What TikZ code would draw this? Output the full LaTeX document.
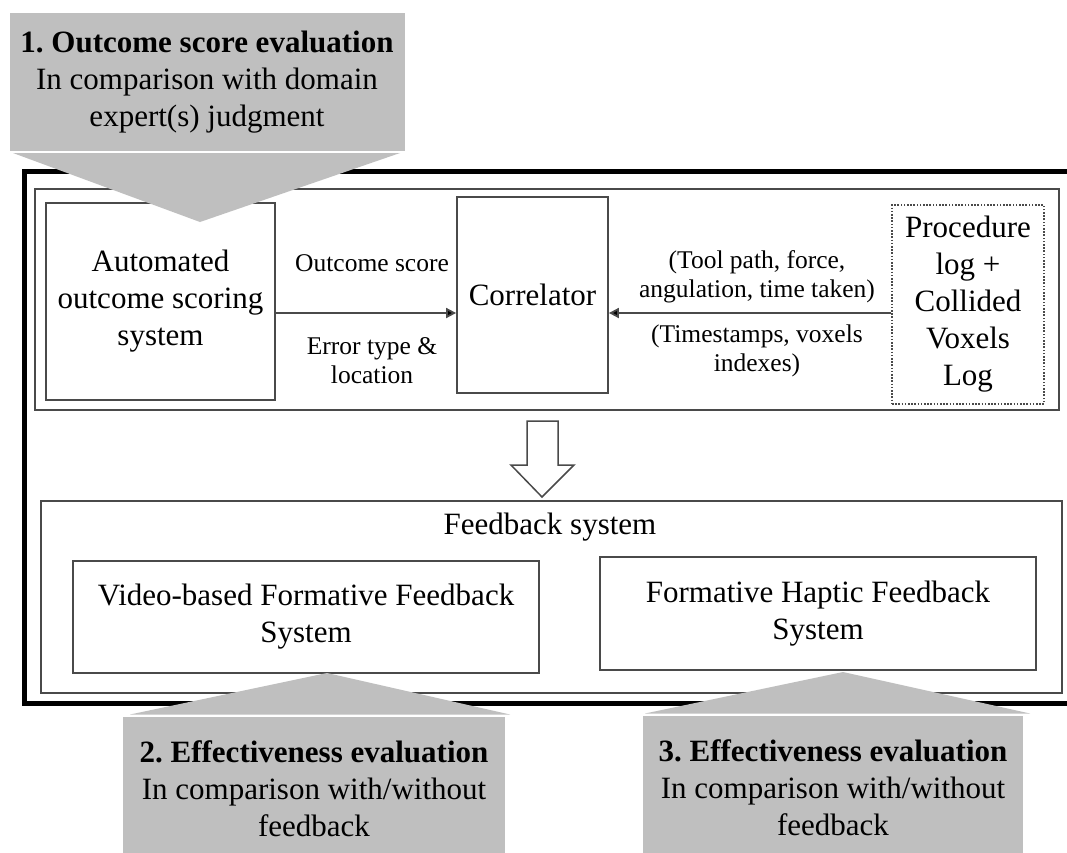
\documentclass[tikz,border=0pt]{standalone}
\usepackage{fontspec}
\setmainfont{Liberation Serif}
\usetikzlibrary{arrows.meta}
\frenchspacing
\definecolor{boxline}{HTML}{4A4A4A}
\definecolor{callgray}{HTML}{BFBFBF}
\tikzset{
  bigfont/.style={font=\fontsize{31}{37}\selectfont},
  lblfont/.style={font=\fontsize{25.5}{29}\selectfont},
  sysbox/.style={draw=boxline, line width=1.8pt, fill=white, inner sep=0pt, align=center, bigfont},
  lbl/.style={inner sep=0pt, align=center, lblfont},
  arr/.style={draw=boxline, line width=1.8pt, -{Triangle[length=10pt,width=10pt,fill=black]}},
  callfill/.style={fill=callgray, draw=none},
  calltxt/.style={inner sep=0pt, align=center, bigfont}
}
\begin{document}
\begin{tikzpicture}[x=1pt,y=-1pt]
\useasboundingbox (0,0) rectangle (1067,852);
\fill[white] (0,0) rectangle (1067,852);
% thick outer border (right side outside picture)
\draw[line width=5pt, black] (1080,171) -- (24,171) -- (24,703) -- (1080,703);
% upper inner frame
\draw[draw=boxline, line width=1.8pt] (35,189) rectangle (1059,410);
% lower inner frame
\draw[draw=boxline, line width=1.8pt] (41,501) rectangle (1062,693);

% upper boxes
\node[sysbox, minimum width=229pt, minimum height=197pt] (auto) at (160.5,301.5) {Automated\\outcome scoring\\system};
\node[sysbox, minimum width=151pt, minimum height=196pt] (corr) at (532.5,295) {Correlator};
\node[draw=boxline, line width=1.6pt, dash pattern=on 1.6pt off 1.6pt, inner sep=0pt, align=center, bigfont,
      minimum width=152pt, minimum height=199pt] (proc) at (968,304.5) {Procedure\\log +\\Collided\\Voxels\\Log};

\coordinate (ay) at (0,313);
\draw[arr] (auto.east |- ay) -- (corr.west |- ay);
\draw[arr] (proc.west |- ay) -- (corr.east |- ay);

\node[lbl] (los) at (372,263) {Outcome score};
\node[lbl] (let) at (372,361) {Error type \&\\location};
\node[lbl] (ltp) at (757,277) {(Tool path, force,\\angulation, time taken)};
\node[lbl] (lts) at (757,351) {(Timestamps, voxels\\indexes)};

% hollow arrow
\draw[draw=boxline, line width=1.5pt, fill=white, line join=miter]
  (527,421) -- (558,421) -- (558,465) -- (574,465) -- (542,497) -- (511,465) -- (527,465) -- cycle;

% feedback system
\node[inner sep=0pt, bigfont] (fbs) at (550,527) {Feedback system};
\node[sysbox, minimum width=466pt, minimum height=112pt] (video) at (306,617) {Video-based Formative Feedback\\System};
\node[sysbox, minimum width=436pt, minimum height=113pt] (haptic) at (818,613.5) {Formative Haptic Feedback\\System};

% callout 1
\fill[callgray] (10,13) rectangle (405,151);
\fill[callgray] (13,153) -- (400,153) -- (200,222) -- cycle;
\node[calltxt] (c1) at (207,82) {\textbf{1. Outcome score evaluation}\\In comparison with domain\\expert(s) judgment};

% callout 2
\fill[callgray] (130,714.5) -- (510,714.5) -- (327,673) -- cycle;
\fill[callgray] (123,716.5) rectangle (505,860);
\node[calltxt] (c2) at (314,789) {\textbf{2. Effectiveness evaluation}\\In comparison with/without\\feedback};

% callout 3
\fill[callgray] (645,713.5) -- (1030,713.5) -- (843,672) -- cycle;
\fill[callgray] (643,715.5) rectangle (1023,860);
\node[calltxt] (c3) at (833,788) {\textbf{3. Effectiveness evaluation}\\In comparison with/without\\feedback};
\end{tikzpicture}
\end{document}
